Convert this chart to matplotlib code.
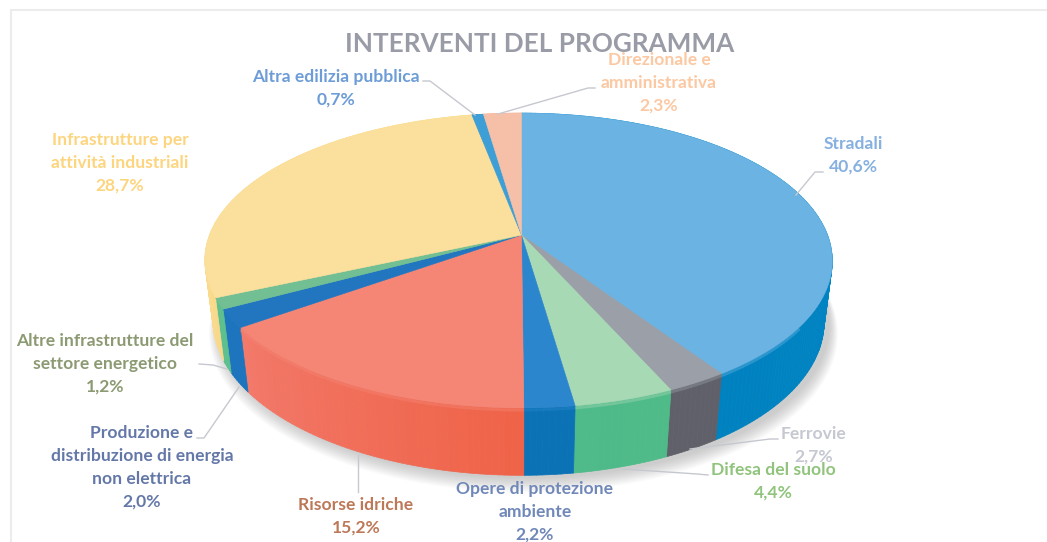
import numpy as np
import matplotlib
matplotlib.use("Agg")
import matplotlib.pyplot as plt
from matplotlib.collections import PolyCollection
from matplotlib.colors import to_rgb

plt.rcParams['font.family'] = ['Lato', 'DejaVu Sans']

categories = ["Stradali", "Ferrovie", "Difesa del suolo", "Opere di protezione\nambiente",
              "Risorse idriche", "Produzione e\ndistribuzione di energia\nnon elettrica",
              "Altre infrastrutture del\nsettore energetico", "Infrastrutture per\nattività industriali",
              "Altra edilizia pubblica", "Direzionale e\namministrativa"]
values = [40.6, 2.7, 4.4, 2.2, 15.2, 2.0, 1.2, 28.7, 0.7, 2.3]
value_labels = ["40,6%", "2,7%", "4,4%", "2,2%", "15,2%", "2,0%", "1,2%", "28,7%", "0,7%", "2,3%"]

top_colors = ["#6ab3e3", "#9a9fa8", "#a8d9b5", "#2b86cd", "#f58676",
              "#2176bf", "#72bf93", "#fbdf9d", "#3d9fd6", "#f6bfa8"]
wall_left = ["#0082c0", "#5f6069", "#4fba8a", "#0a72b5", "#f3796a",
             "#1b74bd", "#5cbf8e", "#fde27f", "#2a8cc8", "#f2b090"]
wall_right = ["#0088c8", "#5f6069", "#4fbb88", "#0a72b5", "#ef6348",
              "#1b74bd", "#5cbf8e", "#f9d98e", "#2a8cc8", "#f2b090"]
label_colors = ["#85b0e0", "#c5c8d0", "#90c47c", "#7088b8", "#bd7858",
                "#6478a8", "#8b9a72", "#fdd57f", "#6d9cd6", "#fcc8a2"]

# layout (pixels)
label_x = [853, 814, 773, 535, 356, 142, 105, 120, 336, 659]
label_y = [144, 434, 470, 489, 505, 433, 341, 140, 77, 60]
leaders = [[(823, 172), (815, 172), (796, 195)],
           [(778, 439), (770, 439), (690, 449)],
           [(708, 475), (697, 474), (623, 469)],
           [],
           [(358, 492), (358, 455)],
           [(197, 438), (204, 438), (239, 387)],
           [(199, 364), (213, 365), (227, 369)],
           [],
           [(423, 81), (430, 81), (475, 115)],
           [(595, 88), (588, 88), (498, 114)]]

CX, CY, B, A, K, M, D, BOW = 521.5, 235.0, 309.0, 143.0, 0.173, 0.026, 62.0, 3.0


def project(theta, r=1.0, z=0.0):
    x, y = r * np.sin(theta), r * np.cos(theta)
    w = 1 + K * y + M * z
    return CX + B * x / w - BOW * x * x, CY + (-A * y + D * z) / w


fig = plt.figure(figsize=(10.47, 5.42), dpi=100)
ax = fig.add_axes([0, 0, 1, 1])
ax.set_xlim(0, 1047)
ax.set_ylim(542, 0)
ax.axis("off")

# chart frame
ax.plot([10.5, 10.5, 1047], [542, 9.5, 9.5], color="#ececec", lw=1.5, zorder=1)

# soft shadow under the solid
full = np.linspace(0, 2 * np.pi, 361)
for i in range(14):
    f = i / 13
    sx, sy = project(full, 1.0 + 0.028 * (1 - f), 1.0)
    ax.fill(sx + 5, sy + 3 + 8 * (1 - f), color="#808080", alpha=0.03, lw=0, zorder=2)

edges = np.cumsum([0] + values) / sum(values) * 2 * np.pi

# side walls
for i in range(len(values)):
    th = np.linspace(edges[i], edges[i + 1], max(3, int(np.degrees(edges[i + 1] - edges[i])) + 2))
    polys, cols = [], []
    c0, c1 = np.array(to_rgb(wall_left[i])), np.array(to_rgb(wall_right[i]))
    for j in range(len(th) - 1):
        seg = np.array([th[j], th[j + 1]])
        tx, ty = project(seg)
        bx, by = project(seg, 1.0, 1.0)
        polys.append([(tx[0], ty[0]), (tx[1], ty[1]), (bx[1], by[1]), (bx[0], by[0])])
        # colours run from the right-hand end to the left-hand end of the front
        cols.append(c1 + (c0 - c1) * j / max(1, len(th) - 2))
    ax.add_collection(PolyCollection(polys, facecolors=cols, edgecolors=cols, linewidths=0.5, zorder=3))

# top faces
for i in range(len(values)):
    th = np.linspace(edges[i], edges[i + 1], 200)
    tx, ty = project(th)
    ax.fill(np.r_[CX, tx], np.r_[CY, ty], color=top_colors[i], lw=0.4, zorder=4)

# bevel highlight along the front rim
for i in range(len(values)):
    th = np.linspace(edges[i], edges[i + 1], 120)
    th = th[(th > np.radians(125)) & (th < np.radians(236))]
    if len(th) > 1:
        tx, ty = project(th, 1.0, 0.03)
        ax.plot(tx, ty, color=top_colors[i], lw=2.2, alpha=0.4, solid_capstyle="butt", zorder=5)

# leaders
for pts in leaders:
    if pts:
        xs, ys = zip(*pts)
        ax.plot(xs, ys, color="#c6c8d0", lw=1.0, zorder=6)

# title
ax.text(540, 44, "INTERVENTI DEL PROGRAMMA", color="#999ca6", fontsize=18.8,
        fontweight="bold", ha="center", va="center", zorder=7)

# labels
for name, val, lx, ly, col in zip(categories, value_labels, label_x, label_y, label_colors):
    for n, line in enumerate(name.split("\n") + [val]):
        ax.text(lx, ly + 23 * n, line, color=col, fontsize=12.6, fontweight="bold",
                ha="center", va="center", zorder=8)

fig.savefig("out.png", dpi=100)
